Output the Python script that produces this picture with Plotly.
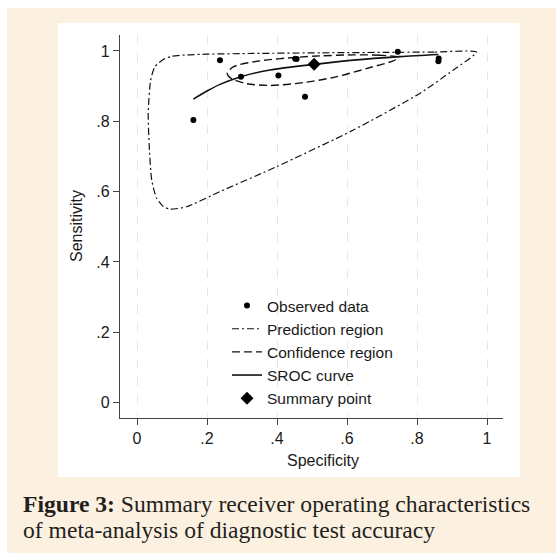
import plotly.graph_objects as go

# ---------------- data ----------------
obs_spec = [0.161, 0.237, 0.297, 0.404, 0.452, 0.456, 0.480, 0.745, 0.862, 0.861]
obs_sens = [0.804, 0.974, 0.927, 0.930, 0.978, 0.977, 0.870, 0.998, 0.979, 0.971]

summary_spec = [0.506]
summary_sens = [0.962]

sroc_spec = [0.161, 0.200, 0.237, 0.297, 0.380, 0.506, 0.618, 0.751, 0.861]
sroc_sens = [0.863, 0.886, 0.905, 0.927, 0.946, 0.962, 0.974, 0.984, 0.990]

conf_spec = [0.747, 0.694, 0.618, 0.523, 0.456, 0.351, 0.275, 0.258, 0.261, 0.275,
             0.313, 0.380, 0.475, 0.571, 0.666, 0.732, 0.747]
conf_sens = [0.982, 0.988, 0.989, 0.986, 0.982, 0.972, 0.955, 0.937, 0.929, 0.919,
             0.907, 0.902, 0.910, 0.927, 0.953, 0.972, 0.982]

pred_spec = [0.970, 0.850, 0.713, 0.550, 0.332, 0.200, 0.142, 0.100, 0.075, 0.051,
             0.039, 0.032, 0.035, 0.042, 0.056, 0.075, 0.094, 0.142, 0.237, 0.399,
             0.618, 0.809, 0.904, 0.970]
pred_sens = [0.997, 0.997, 0.996, 0.995, 0.993, 0.991, 0.989, 0.985, 0.976, 0.955,
             0.917, 0.823, 0.728, 0.633, 0.581, 0.558, 0.550, 0.557, 0.600, 0.671,
             0.775, 0.880, 0.946, 0.997]

tick_vals = [0, 0.2, 0.4, 0.6, 0.8, 1]
tick_text = ["0", ".2", ".4", ".6", ".8", "1"]

legend_names = ["Observed data", "Prediction region", "Confidence region",
                "SROC curve", "Summary point"]

caption_bold = "Figure 3:"
caption_l1 = " Summary receiver operating characteristics"
caption_l2 = "of meta-analysis of diagnostic test accuracy"

# ---------------- layout helpers ----------------
W, H = 556, 553
ML, MR, MT, MB = 120, 53, 35, 135
PW, PH = W - ML - MR, H - MT - MB


def px(x):
    return (x - ML) / PW


def py(y):
    return (H - MB - y) / PH


SANS = "Liberation Sans, Arial, sans-serif"
SERIF = "Liberation Serif, Times New Roman, serif"
BEIGE = "#FCF1E1"

fig = go.Figure()

fig.add_trace(go.Scatter(
    x=pred_spec, y=pred_sens, mode="lines", name=legend_names[1], legendrank=2,
    line=dict(color="#111", width=1.2, dash="7px,3px,2px,3px", shape="spline", smoothing=0.6),
))
fig.add_trace(go.Scatter(
    x=conf_spec, y=conf_sens, mode="lines", name=legend_names[2], legendrank=3,
    line=dict(color="#111", width=1.4, dash="8px,4px", shape="spline", smoothing=0.8),
))
fig.add_trace(go.Scatter(
    x=sroc_spec, y=sroc_sens, mode="lines", name=legend_names[3], legendrank=4,
    line=dict(color="#111", width=1.6, shape="spline", smoothing=0.8),
))
fig.add_trace(go.Scatter(
    x=obs_spec, y=obs_sens, mode="markers", name=legend_names[0], legendrank=1,
    marker=dict(color="#000", size=6, symbol="circle"),
))
fig.add_trace(go.Scatter(
    x=summary_spec, y=summary_sens, mode="markers", name=legend_names[4], legendrank=5,
    marker=dict(color="#000", size=10, symbol="diamond"),
))

shapes = [
    dict(type="rect", xref="paper", yref="paper", layer="below",
         x0=px(7), x1=px(W + 5), y0=py(H + 5), y1=py(8),
         fillcolor=BEIGE, line=dict(width=0)),
    dict(type="rect", xref="paper", yref="paper", layer="below",
         x0=px(58), x1=px(520), y0=py(477), y1=py(23),
         fillcolor="white", line=dict(width=0)),
]

annotations = [
    dict(text="Specificity", xref="paper", yref="paper", x=px(323), y=py(460),
         xanchor="center", yanchor="middle", showarrow=False,
         font=dict(family=SANS, size=16, color="#1a1a1a")),
    dict(text="Sensitivity", xref="paper", yref="paper", x=px(76), y=py(226),
         xanchor="center", yanchor="middle", showarrow=False, textangle=-90,
         font=dict(family=SANS, size=16, color="#1a1a1a")),
    dict(text="<b>" + caption_bold + "</b>" + caption_l1, xref="paper", yref="paper",
         x=px(21), y=py(504), xanchor="left", yanchor="middle", showarrow=False,
         font=dict(family=SERIF, size=23.6, color="#231F20")),
    dict(text=caption_l2, xref="paper", yref="paper",
         x=px(21), y=py(530), xanchor="left", yanchor="middle", showarrow=False,
         font=dict(family=SERIF, size=23.6, color="#231F20")),
]

axis_common = dict(
    tickvals=tick_vals, ticktext=tick_text, ticks="outside", ticklen=6,
    tickwidth=1.2, tickcolor="#444", showline=True, linecolor="#444", linewidth=1.2,
    zeroline=False, tickfont=dict(family=SANS, size=16, color="#1a1a1a"),
)

fig.update_layout(
    width=W, height=H,
    margin=dict(l=ML, r=MR, t=MT, b=MB, pad=0),
    paper_bgcolor="white", plot_bgcolor="white",
    xaxis=dict(range=[-0.0486, 1.0457], showgrid=True, griddash="dash",
               gridcolor="#e6e6e6", gridwidth=1, **axis_common),
    yaxis=dict(range=[-0.0441, 1.0455], showgrid=False, **axis_common),
    shapes=shapes, annotations=annotations,
    showlegend=True,
    legend=dict(x=px(227), y=py(289), xanchor="left", yanchor="top",
                bgcolor="rgba(0,0,0,0)", borderwidth=0, itemwidth=30,
                font=dict(family=SANS, size=15.5, color="#1a1a1a"),
                tracegroupgap=0),
)

fig.write_html("out.html", config={"displayModeBar": False})
